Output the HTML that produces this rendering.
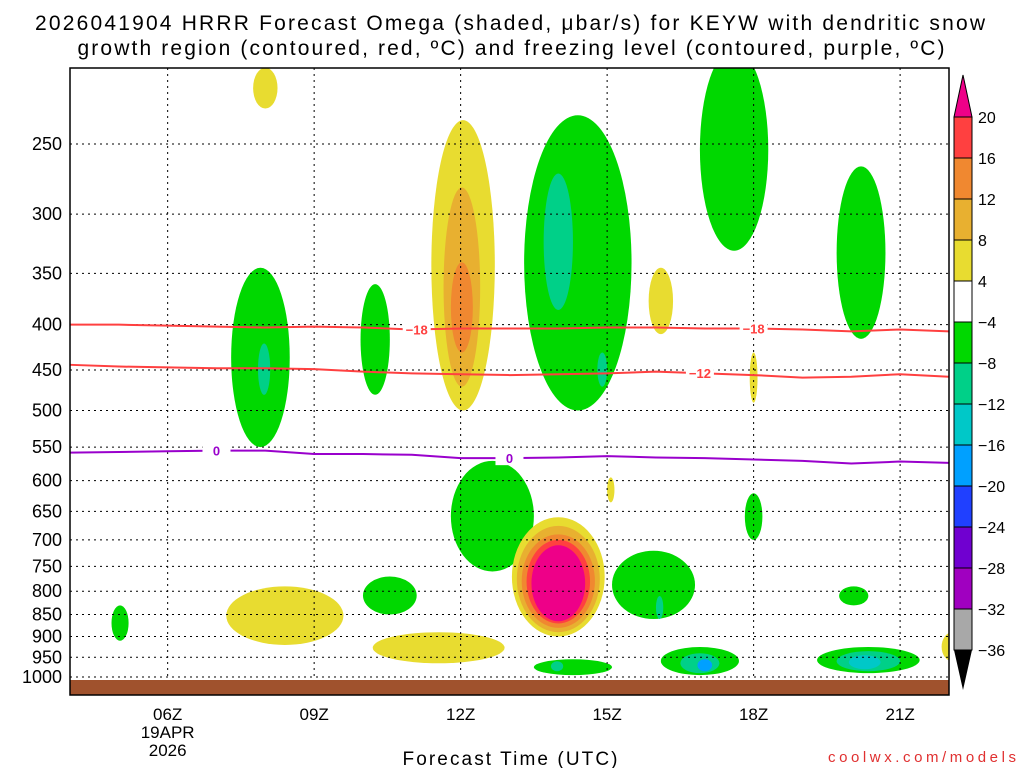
<!DOCTYPE html>
<html><head><meta charset="utf-8"><style>
body{margin:0;background:#fff;}
svg text{font-family:"Liberation Sans",sans-serif;}
</style></head><body>
<svg id="chart" width="1024" height="768" xmlns="http://www.w3.org/2000/svg">
<text x="510" y="30" font-size="21" text-anchor="middle" textLength="950" lengthAdjust="spacing">2026041904 HRRR Forecast Omega (shaded, μbar/s) for KEYW with dendritic snow</text>
<text x="511" y="55" font-size="21" text-anchor="middle" textLength="867" lengthAdjust="spacing">growth region (contoured, red, ºC) and freezing level (contoured, purple, ºC)</text>
<g id="fills"></g>
<g id="grid"></g>
<rect x="70" y="680" width="879" height="15" fill="#a0522d"/>
<g id="lines"></g>
<rect x="70" y="68" width="879" height="627" fill="none" stroke="#000" stroke-width="1.5"/>
<g id="axes"></g>
<g id="cbar"></g>
<text x="510" y="765" font-size="19" text-anchor="middle" textLength="215" lengthAdjust="spacing">Forecast Time (UTC)</text>
<text x="1016" y="762" font-size="15" fill="#e03030" text-anchor="end" textLength="188" lengthAdjust="spacing">coolwx.com/models</text>
</svg>
<script>
const pTicks=[250,300,350,400,450,500,550,600,650,700,750,800,850,900,950,1000];
const tTicks=[6,9,12,15,18,21];
const tLabels=["06Z","09Z","12Z","15Z","18Z","21Z"];
const levels=[20,16,12,8,4,-4,-8,-12,-16,-20,-24,-28,-32,-36];
const bandColors=["#ff4040","#f08830","#e8b030","#e8dc30","#ffffff","#00d800","#00d088","#00c8c8","#00a0ff","#2040ff","#7000d0","#a000c0","#a8a8a8"];
// blobs: [t0,t1,pTop,pBottom,colorIndex]
const blobs=[
[7.75,8.25,205,228,3],
[7.3,8.5,345,550,5],[7.85,8.1,420,480,6],
[9.95,10.55,360,480,5],
[11.4,12.7,235,500,3],[11.65,12.4,280,470,2],[11.8,12.25,340,430,1],
[13.3,15.5,232,500,5],[13.7,14.3,270,385,6],[14.8,15.0,430,470,6],
[16.9,18.3,195,330,5],
[19.7,20.7,265,415,5],
[15.85,16.35,345,410,3],
[15.0,15.15,595,635,3],
[17.92,18.08,430,490,3],
[11.8,13.5,570,760,5],
[7.2,9.6,790,920,3],
[4.85,5.2,830,910,5],
[10.0,11.1,770,850,5],
[10.2,12.9,890,965,3],
[17.82,18.18,620,700,5],
[15.1,16.8,720,860,5],[16.0,16.15,810,860,6],
[13.05,14.95,660,900,3],[13.15,14.85,675,890,2],[13.25,14.75,690,880,1],[13.35,14.65,700,870,0],[13.45,14.55,710,865,-1],
[16.1,17.7,925,995,5],[16.5,17.3,940,990,6],[16.85,17.15,955,985,8],
[19.3,21.4,925,990,5],[19.7,21.0,935,985,6],[19.95,20.6,945,980,7],
[13.5,15.1,955,995,5],[13.85,14.1,960,985,6],
[19.75,20.35,790,830,5],
[21.85,22.3,890,960,3]
];
const hours=[4,5,6,7,8,9,10,11,12,13,14,15,16,17,18,19,20,21,22];
const m18=[400,400,401,402,403,402,403,405,404,404,404,403,403,404,404,405,407,405,407];
const m12=[444,446,447,448,448,449,452,454,455,456,455,454,452,454,456,459,458,455,458];
const frz=[558,557,556,555,555,560,560,561,566,566,565,563,565,566,568,570,574,571,573];

const NS="http://www.w3.org/2000/svg";
const X=t=>70+(t-4)*48.83;
const Y=p=>677-384.5*Math.log(1000/p);
function mk(tag,attrs,parent){const e=document.createElementNS(NS,tag);for(const k in attrs)e.setAttribute(k,attrs[k]);parent.appendChild(e);return e;}
const fills=document.getElementById('fills');
fills.setAttribute('clip-path','url(#plotclip)');
const defs=mk('defs',{},document.getElementById('chart'));
const cp=mk('clipPath',{id:'plotclip'},defs);
mk('rect',{x:70,y:68,width:879,height:627},cp);
blobs.forEach(b=>{
 const cx=(X(b[0])+X(b[1]))/2, rx=(X(b[1])-X(b[0]))/2;
 const y1=Y(b[2]), y2=Y(b[3]);
 const e=mk('ellipse',{cx:cx,cy:(y1+y2)/2,rx:rx,ry:(y2-y1)/2,fill:b[4]<0?"#ee0088":bandColors[b[4]]},fills);
 
 
});
const grid=document.getElementById('grid'), axes=document.getElementById('axes');
pTicks.forEach(p=>{
 const l=mk('line',{x1:70,x2:949,y1:Y(p),y2:Y(p),stroke:"#000","stroke-dasharray":"2,4","stroke-width":1},grid);
 
 
 const t=mk('text',{x:62,y:Y(p)+6,"font-size":18,"text-anchor":"end"},axes);t.textContent=p;
 
 
});
tTicks.forEach((h,i)=>{
 const l=mk('line',{x1:X(h),x2:X(h),y1:68,y2:695,stroke:"#000","stroke-dasharray":"2,4","stroke-width":1},grid);
 
 
 const t=mk('text',{x:X(h),y:720,"font-size":17,"text-anchor":"middle"},axes);t.textContent=tLabels[i];
 
 
});
[["19APR",738],["2026",756]].forEach(a=>{const t=mk('text',{x:X(6),y:a[1],"font-size":17,"text-anchor":"middle"},axes);t.textContent=a[0];
 
 });
const lines=document.getElementById('lines');
function drawLine(arr,color,name,labels,txt){
 const d=arr.map((p,i)=>(i?'L':'M')+X(hours[i])+','+Y(p)).join(' ');
 const pa=mk('path',{d:d,fill:"none",stroke:color,"stroke-width":2},lines);
 
 
 labels.forEach(h=>{
  const i=Math.floor(h)-4, f=h-Math.floor(h);
  const p=arr[i]+(arr[Math.min(i+1,arr.length-1)]-arr[i])*f;
  mk('rect',{x:X(h)-14,y:Y(p)-7,width:28,height:14,fill:"#fff"},lines);
  const t=mk('text',{x:X(h),y:Y(p)+5,"font-size":13,"font-weight":"bold",fill:color,"text-anchor":"middle"},lines);t.textContent=txt;
  
  
 });
}
drawLine(m18,"#ff4040","contour-minus-18",[11.1,18.0],"−18");
drawLine(m12,"#ff4040","contour-minus-12",[16.9],"−12");
drawLine(frz,"#9900cc","freezing-level",[7.0,13.0],"0");
const cb=document.getElementById('cbar');
const cx0=954,cw=18,cbTop=117,bh=(650-117)/13;
mk('polygon',{points:`${cx0},${cbTop} ${cx0+cw},${cbTop} ${cx0+cw/2},75`,fill:"#ee0088",stroke:"#000"},cb);
bandColors.forEach((c,i)=>{const r=mk('rect',{x:cx0,y:cbTop+i*bh,width:cw,height:bh,fill:c,stroke:"#000"},cb);
 
 });
mk('polygon',{points:`${cx0},650 ${cx0+cw},650 ${cx0+cw/2},690`,fill:"#000"},cb);
levels.forEach((v,i)=>{const t=mk('text',{x:978,y:cbTop+i*bh+6,"font-size":16},cb);t.textContent=v<0?"−"+(-v):v;
 
 });
</script>
</body></html>
